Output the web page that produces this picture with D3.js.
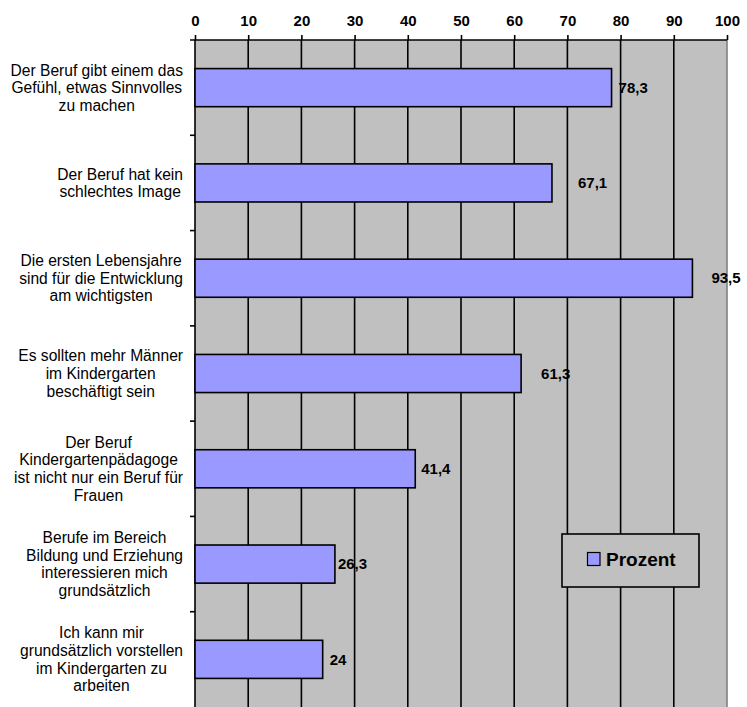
<!DOCTYPE html>
<html>
<head>
<meta charset="utf-8">
<script src="https://cdn.jsdelivr.net/npm/d3@7"></script>
<style>
    body { margin: 0; background: #fff; }
    text { font-family: "Liberation Sans", Arial, sans-serif; }
</style>
</head>
<body>
<div id="chartDiv"></div>
<script>
const categories = [
    "Der Beruf gibt einem das\nGefühl, etwas Sinnvolles\nzu machen",
    "Der Beruf hat kein\nschlechtes Image",
    "Die ersten Lebensjahre\nsind für die Entwicklung\nam wichtigsten",
    "Es sollten mehr Männer\nim Kindergarten\nbeschäftigt sein",
    "Der Beruf\nKindergartenpädagoge\nist nicht nur ein Beruf für\nFrauen",
    "Berufe im Bereich\nBildung und Erziehung\ninteressieren mich\ngrundsätzlich",
    "Ich kann mir\ngrundsätzlich vorstellen\nim Kindergarten zu\narbeiten"
]
const prozent = [78.3, 67.1, 93.5, 61.3, 41.4, 26.3, 24]
const valueLabels = ["78,3", "67,1", "93,5", "61,3", "41,4", "26,3", "24"]
const xTicks = [0, 10, 20, 30, 40, 50, 60, 70, 80, 90, 100]
const seriesName = "Prozent"

// label nudges as placed in the original sheet (px right of bar end)
const labelNudge = [7, 26, 19, 20, 6, 3, 7]

const width = 747
const height = 707
const margin = { top: 40, right: 20, bottom: 0, left: 195 }
const barColor = "#9999ff"
const plotColor = "#c0c0c0"
const lw = 1.6

const x = d3.scaleLinear().domain([0, 100]).range([margin.left, width - margin.right])
const y = d3.scaleBand().domain(d3.range(categories.length))
    .range([margin.top, height - margin.bottom])
    .paddingInner(0.6).paddingOuter(0.3)

const svg = d3.select("#chartDiv").append("svg")
    .attr("width", width)
    .attr("height", height)

// plot area
svg.append("rect")
    .attr("x", x(0)).attr("y", margin.top)
    .attr("width", x(100) - x(0)).attr("height", height - margin.top)
    .attr("fill", plotColor)

svg.append("g").selectAll("line").data(xTicks.filter(d => d > 0)).enter()
    .append("line")
    .attr("x1", d => x(d)).attr("x2", d => x(d))
    .attr("y1", margin.top).attr("y2", height)
    .attr("stroke", d => d == 100 ? "#808080" : "#000")
    .attr("stroke-width", lw)

// top axis
const xAxis = d3.axisTop(x).tickValues(xTicks).tickSize(5).tickSizeOuter(0).tickFormat(d3.format("d"))
const gx = svg.append("g").attr("transform", `translate(0,${margin.top})`).call(xAxis)
gx.select(".domain").remove()
gx.selectAll(".tick line").attr("stroke", "#000").attr("stroke-width", lw)
gx.selectAll(".tick text")
    .attr("y", -14)
    .style("font-family", "'Liberation Sans', Arial, sans-serif")
    .style("font-size", "15px")
    .style("font-weight", "bold")
    .attr("fill", "#000")
svg.append("line")
    .attr("x1", x(0) - 5).attr("x2", x(100))
    .attr("y1", margin.top).attr("y2", margin.top)
    .attr("stroke", "#000").attr("stroke-width", lw)

// left axis, ticks sit between the categories
const boundary = i => y(i) - y.step() * y.paddingInner() / 2
svg.append("line")
    .attr("x1", x(0)).attr("x2", x(0))
    .attr("y1", margin.top).attr("y2", height)
    .attr("stroke", "#000").attr("stroke-width", lw)
svg.append("g").selectAll("line").data(d3.range(1, categories.length)).enter()
    .append("line")
    .attr("x1", x(0) - 5).attr("x2", x(0))
    .attr("y1", boundary)
    .attr("y2", boundary)
    .attr("stroke", "#000").attr("stroke-width", lw)

// bars
svg.append("g").selectAll("rect").data(prozent).enter()
    .append("rect")
    .attr("x", x(0))
    .attr("y", (d, i) => y(i))
    .attr("width", d => x(d) - x(0))
    .attr("height", y.bandwidth())
    .attr("fill", barColor)
    .attr("stroke", "#000")
    .attr("stroke-width", lw)

svg.append("g").selectAll("text").data(prozent).enter()
    .append("text")
    .attr("x", (d, i) => x(d) + labelNudge[i])
    .attr("y", (d, i) => y(i) + y.bandwidth() / 2)
    .attr("dy", "0.35em")
    .style("font-size", "15px")
    .style("font-weight", "bold")
    .text((d, i) => valueLabels[i])

// category labels: lines centred in a box that is right-aligned to the axis
const lineHeight = 17.6
const labelRight = 183
categories.forEach((c, i) => {
    const lines = c.split("\n")
    const cy = y(i) + y.bandwidth() / 2
    const texts = svg.append("g").selectAll("text").data(lines).enter()
        .append("text")
        .attr("y", (d, k) => cy + (k - (lines.length - 1) / 2) * lineHeight)
        .attr("dy", "0.35em")
        .attr("text-anchor", "middle")
        .style("font-size", "15.6px")
        .text(d => d)
    const maxW = d3.max(texts.nodes(), n => n.getComputedTextLength())
    texts.attr("x", labelRight - maxW / 2)
})

// legend
const legend = svg.append("g").attr("transform", "translate(562,534)")
legend.append("rect")
    .attr("width", 137).attr("height", 53)
    .attr("fill", plotColor)
    .attr("stroke", "#000").attr("stroke-width", lw)
legend.append("rect")
    .attr("x", 25.5).attr("y", 18.5)
    .attr("width", 12.5).attr("height", 13)
    .attr("fill", barColor)
    .attr("stroke", "#000").attr("stroke-width", 1.2)
legend.append("text")
    .attr("x", 44).attr("y", 32)
    .style("font-size", "19px")
    .style("font-weight", "bold")
    .text(seriesName)
</script>
</body>
</html>
